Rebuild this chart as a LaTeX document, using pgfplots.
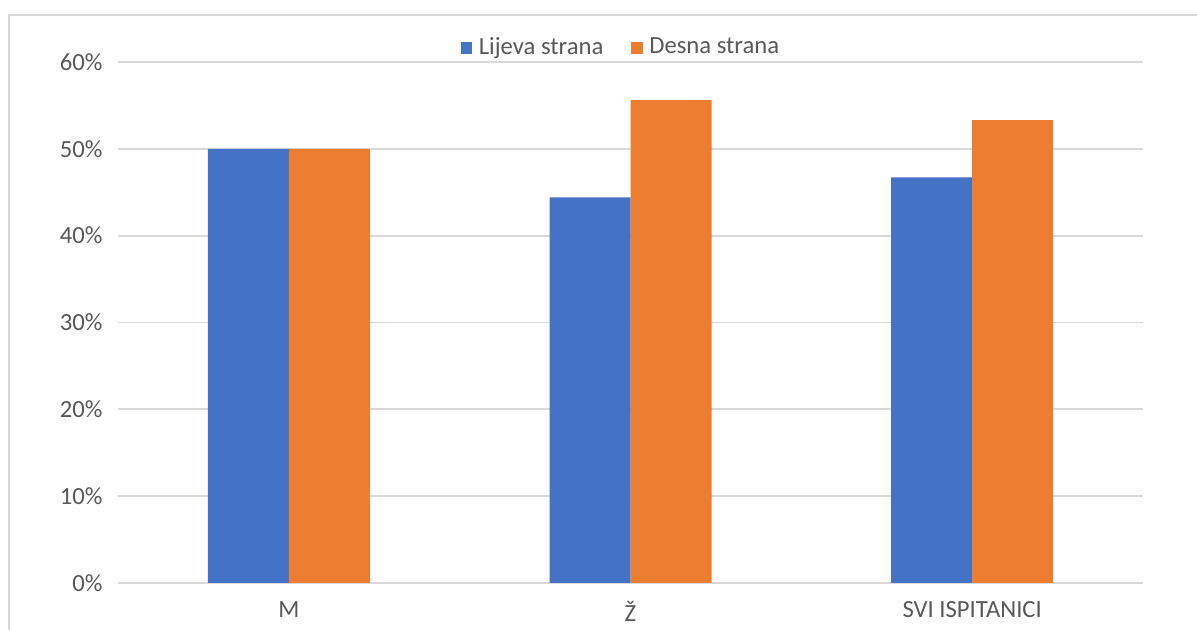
\documentclass[border=0pt]{standalone}
\usepackage{pgfplots}
\pgfplotsset{compat=1.18}
\usepackage{fontspec}
\setmainfont{Carlito}
\definecolor{cblue}{HTML}{4472C4}
\definecolor{corange}{HTML}{ED7D31}
\definecolor{cgrid}{HTML}{D9D9D9}
\definecolor{ctext}{HTML}{595959}
\begin{document}
\begin{tikzpicture}[x=0.75pt,y=0.75pt]
\useasboundingbox (0,0) rectangle (1197,630);
\fill[white] (0,0) rectangle (1197,630);
\draw[cgrid, line width=1.5pt] (9,0) -- (9,615) -- (1197,615);
\begin{axis}[
  at={(88.5pt,35.25pt)}, anchor=south west,
  scale only axis, width=768.75pt, height=390.75pt,
  ybar=0pt, bar width=60.75pt,
  xmin=-0.5, xmax=2.5, ymin=0, ymax=60,
  xtick={0,1,2}, xticklabels={M, Ž, SVI ISPITANICI},
  ytick={0,10,...,60},
  yticklabel={\pgfmathprintnumber{\tick}\%},
  /pgf/number format/assume math mode=true,
  axis line style={draw=none},
  major tick length=0pt,
  ymajorgrids, grid style={cgrid, line width=1.3pt},
  tick label style={font=\fontsize{18.5}{22}\selectfont, text=ctext},
  yticklabel style={xshift=-8pt},
  xticklabel style={yshift=-10.5pt},
  legend style={draw=none, fill=none, font=\fontsize{18.5}{22}\selectfont, text=ctext,
    at={(0.491,1.029)}, anchor=center, legend columns=2,
    /tikz/every odd column/.append style={column sep=3pt},
    /tikz/every even column/.append style={column sep=19pt}},
  legend image code/.code={\fill[#1] (0pt,-5pt) rectangle (8.5pt,3.5pt);},
]
\addplot[fill=cblue, draw=none] coordinates {(0,50) (1,44.4) (2,46.7)};
\addplot[fill=corange, draw=none] coordinates {(0,50) (1,55.6) (2,53.3)};
\legend{Lijeva strana, Desna strana}
\end{axis}
\end{tikzpicture}
\end{document}
